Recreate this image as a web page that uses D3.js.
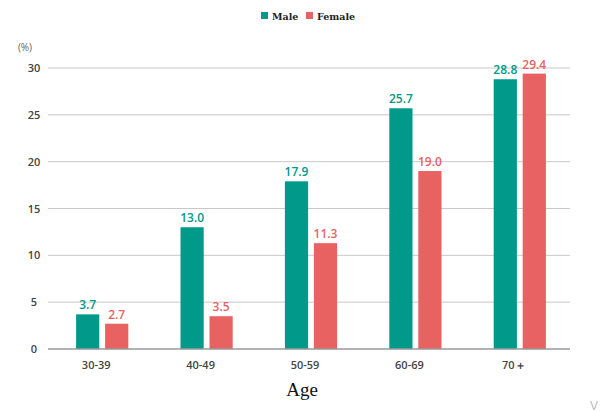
<html>
<head>
<script src="https://d3js.org/d3.v7.min.js"></script>
<style>
body { margin: 0; background: #fff; }
.grid line { stroke: #c8c8c8; }
.tick-label { font-family: 'Open Sans', sans-serif; font-weight: 600; font-size: 11px; fill: #444; }
</style>
</head>
<body>
<svg></svg>
<script>
var width = 600, height = 412;

var ages = ['30-39', '40-49', '50-59', '60-69', '70\uFF0B'];
var series = ['Male', 'Female'];
var maleValues = [3.7, 13.0, 17.9, 25.7, 28.8];
var femaleValues = [2.7, 3.5, 11.3, 19.0, 29.4];
var yTicks = [0, 5, 10, 15, 20, 25, 30];

var colors = { Male: '#00998a', Female: '#e86262' };

var svg = d3.select('svg')
  .attr('width', width)
  .attr('height', height);

var x0 = d3.scaleBand()
  .domain(ages)
  .range([50, 572])
  .paddingInner(0.5)
  .paddingOuter(0.25);

var x1 = d3.scaleBand()
  .domain(series)
  .range([0, x0.bandwidth()])
  .paddingInner(0.2);

var y = d3.scaleLinear()
  .domain([0, 30])
  .range([349, 68]);

// gridlines
svg.append('g')
  .attr('class', 'grid')
  .selectAll('line')
  .data(yTicks.filter(function(d) { return d > 0; }))
  .enter().append('line')
  .attr('x1', 48)
  .attr('x2', 570)
  .attr('y1', function(d) { return y(d); })
  .attr('y2', function(d) { return y(d); });

// y labels
svg.append('g')
  .selectAll('text')
  .data(yTicks)
  .enter().append('text')
  .attr('class', 'tick-label')
  .attr('x', 34)
  .attr('y', function(d) { return y(d) + 4; })
  .attr('text-anchor', 'middle')
  .text(function(d) { return d; });

svg.append('text')
  .attr('class', 'tick-label')
  .attr('x', 25)
  .attr('y', 51)
  .attr('text-anchor', 'middle')
  .style('font-weight', 400)
  .style('font-size', '10px')
  .style('fill', '#666')
  .text('(%)');

// bars
var rows = ages.map(function(a, i) {
  return { age: a, vals: [{ key: 'Male', v: maleValues[i] }, { key: 'Female', v: femaleValues[i] }] };
});

var groups = svg.append('g')
  .selectAll('g')
  .data(rows)
  .enter().append('g')
  .attr('transform', function(d) { return 'translate(' + x0(d.age) + ',0)'; });

groups.selectAll('rect')
  .data(function(d) { return d.vals; })
  .enter().append('rect')
  .attr('x', function(d) { return x1(d.key); })
  .attr('width', x1.bandwidth())
  .attr('y', function(d) { return y(d.v); })
  .attr('height', function(d) { return y(0) - y(d.v); })
  .attr('fill', function(d) { return colors[d.key]; });

groups.selectAll('text')
  .data(function(d) { return d.vals; })
  .enter().append('text')
  .attr('x', function(d) { return x1(d.key) + x1.bandwidth() / 2; })
  .attr('y', function(d) { return y(d.v) - 5; })
  .attr('text-anchor', 'middle')
  .style('font-family', "'Open Sans', sans-serif")
  .style('font-weight', 600)
  .style('font-size', '12px')
  .style('fill', function(d) { return colors[d.key]; })
  .text(function(d) { return d.v.toFixed(1); });

// baseline
svg.append('line')
  .attr('x1', 48).attr('x2', 570)
  .attr('y1', y(0)).attr('y2', y(0))
  .attr('stroke', '#999')
  .attr('stroke-width', 1.5);

// x labels
svg.append('g')
  .selectAll('text')
  .data(ages)
  .enter().append('text')
  .attr('class', 'tick-label')
  .attr('x', function(d) { return x0(d) + x0.bandwidth() / 2 - 6; })
  .attr('y', 369)
  .attr('text-anchor', 'middle')
  .text(function(d) { return d; });

// axis title
svg.append('text')
  .attr('x', 302)
  .attr('y', 396)
  .attr('text-anchor', 'middle')
  .style('font-family', "'Liberation Serif', serif")
  .style('font-size', '19px')
  .style('fill', '#111')
  .text('Age');

// legend
var legend = svg.append('g')
  .selectAll('g')
  .data(series)
  .enter().append('g')
  .attr('transform', function(d, i) { return 'translate(' + [261, 306][i] + ',12)'; });

legend.append('rect')
  .attr('width', 7)
  .attr('height', 7)
  .attr('fill', function(d) { return colors[d]; });

legend.append('text')
  .attr('x', 11)
  .attr('y', 7.5)
  .style('font-family', "'DejaVu Serif', serif")
  .style('font-weight', 700)
  .style('font-size', '9.5px')
  .style('fill', '#222')
  .text(function(d) { return d; });

svg.append('text')
  .attr('x', 590)
  .attr('y', 410)
  .style('font-family', 'sans-serif')
  .style('font-size', '12px')
  .style('fill', '#bbb')
  .text('V');
</script>
</body>
</html>
